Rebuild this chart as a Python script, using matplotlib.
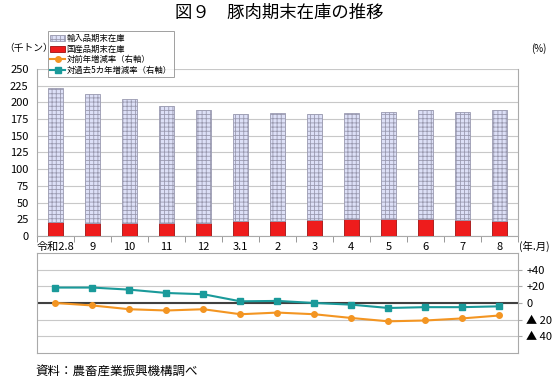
import matplotlib.pyplot as plt
import numpy as np

plt.rcParams['font.family'] = ['Noto Sans CJK JP', 'DejaVu Sans']
plt.rcParams['hatch.color'] = '#9096dc'
plt.rcParams['hatch.linewidth'] = 0.6

# データ（読み取り値）
months = ['令和2.8', '9', '10', '11', '12', '3.1', '2', '3', '4', '5', '6', '7', '8']
total = [222, 213, 205, 195, 189, 183, 184, 182, 184, 186, 188, 185, 188]
domestic = [20.5, 19, 19, 19, 20, 22, 22, 24, 25.5, 25.5, 25, 24, 23]
imported = [t - d for t, d in zip(total, domestic)]
yoy = [0, -3, -7.5, -9, -7.5, -13.5, -11.5, -13.5, -18, -22, -21, -18.5, -15]
vs5y = [18.5, 18.5, 16, 12, 10.5, 2, 2.5, 0, -2, -6, -5, -5, -4]
rate_ticks = [-40, -20, 0, 20, 40]
rate_labels = ['▲ 40', '▲ 20', '0', '+20', '+40']

x = np.arange(len(months))

fig = plt.figure(figsize=(5.58, 3.81), dpi=100)
ax = fig.add_axes([0.0663, 0.3806, 0.8617, 0.4384])
ax2 = fig.add_axes([0.0663, 0.0735, 0.8617, 0.2625])

# 上段：在庫（棒）
b1 = ax.bar(x, domestic, width=0.4, color='#ee1c1c', edgecolor='#a01010', linewidth=0.6,
            label='国産品期末在庫', zorder=3)
b0 = ax.bar(x, imported, width=0.4, bottom=domestic, color='#dde0f7', edgecolor='#9a9ab0',
            linewidth=0.6, hatch='++++', label='輸入品期末在庫', zorder=3)
ax.set_xlim(-0.5, len(months) - 0.5)
ax.set_ylim(0, 250)
ax.set_yticks(np.arange(0, 251, 25))
ax.grid(axis='y', color='#c8c8c8', linewidth=0.8, zorder=0)
ax.set_xticks(x)
ax.set_xticklabels(months, fontsize=8)
ax.set_xticks(np.arange(-0.5, len(months)), minor=True)
ax.tick_params(axis='x', which='major', length=0, pad=4)
ax.tick_params(axis='x', which='minor', length=4, color='#888888')
ax.tick_params(axis='y', length=0, labelsize=8, pad=6)
ax.spines['top'].set_visible(False)
for s in ['left', 'right', 'bottom']:
    ax.spines[s].set_color('#aaaaaa')

# 下段：増減率（線）
l1, = ax2.plot(x, yoy, color='#f39522', marker='o', markersize=4, linewidth=1.5,
               label='対前年増減率（右軸）', zorder=3)
l2, = ax2.plot(x, vs5y, color='#1a9a9a', marker='s', markersize=4, linewidth=1.5,
               label='対過去5カ年増減率（右軸）', zorder=3)
ax2.set_xlim(-0.5, len(months) - 0.5)
ax2.set_ylim(-60, 60)
ax2.axhline(0, color='#404040', linewidth=1.5, zorder=2)
ax2.set_yticks(rate_ticks)
ax2.set_yticklabels(rate_labels, fontsize=8)
ax2.grid(axis='y', color='#c8c8c8', linewidth=0.8, zorder=0)
ax2.yaxis.tick_right()
ax2.tick_params(axis='y', length=3, color='#aaaaaa', pad=3)
ax2.set_xticks([])
for s in ['left', 'right', 'top', 'bottom']:
    ax2.spines[s].set_color('#aaaaaa')

# 凡例
leg = ax.legend(handles=[b0, b1, l1, l2], loc='upper left', bbox_to_anchor=(0.022, 1.225),
                fontsize=6, frameon=True, fancybox=False, edgecolor='#888888',
                handlelength=1.8, handleheight=0.7, labelspacing=0.2, borderpad=0.3,
                handletextpad=0.2, borderaxespad=0)
leg.get_frame().set_linewidth(0.7)
leg.set_zorder(5)

# テキスト
fig.text(0.5, 0.965, '図９　豚肉期末在庫の推移', ha='center', va='center', fontsize=12.5)
fig.text(0.008, 0.873, '（千トン）', ha='left', va='center', fontsize=7)
fig.text(0.952, 0.873, '(%)', ha='left', va='center', fontsize=7)
fig.text(0.931, 0.352, '(年.月)', ha='left', va='center', fontsize=7.5)
fig.text(0.063, 0.025, '資料：農畜産業振興機構調べ', ha='left', va='center', fontsize=9)

fig.savefig('out.png', dpi=100)
